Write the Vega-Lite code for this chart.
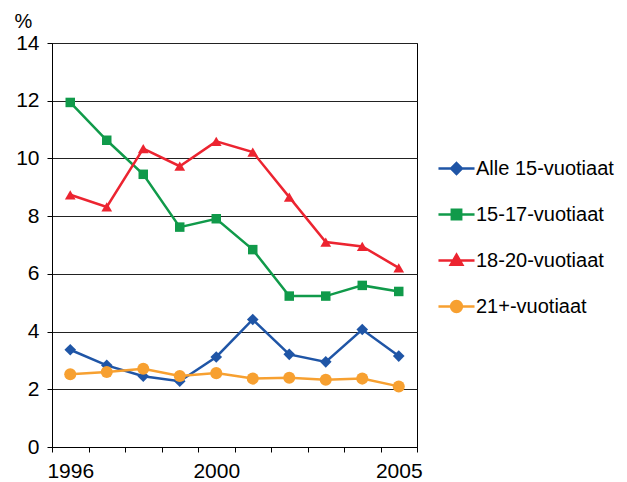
{
  "$schema": "https://vega.github.io/schema/vega-lite/v6.json",
  "autosize": {"type": "none"},
  "padding": {"left": 52, "top": 43, "right": 210, "bottom": 35},
  "width": 365,
  "height": 404,
  "background": "white",
  "config": {
    "font": "Liberation Sans",
    "view": {"stroke": "#000", "strokeWidth": 1},
    "axis": {"labelFont": "Liberation Sans", "titleFont": "Liberation Sans", "labelColor": "#000", "titleColor": "#000", "domainColor": "#000", "tickColor": "#000"}
  },
  "data": {"values": [
    {"year": "1996", "series": "Alle 15-vuotiaat", "value": 3.37},
    {"year": "1997", "series": "Alle 15-vuotiaat", "value": 2.83},
    {"year": "1998", "series": "Alle 15-vuotiaat", "value": 2.45},
    {"year": "1999", "series": "Alle 15-vuotiaat", "value": 2.28},
    {"year": "2000", "series": "Alle 15-vuotiaat", "value": 3.12},
    {"year": "2001", "series": "Alle 15-vuotiaat", "value": 4.42},
    {"year": "2002", "series": "Alle 15-vuotiaat", "value": 3.21},
    {"year": "2003", "series": "Alle 15-vuotiaat", "value": 2.95},
    {"year": "2004", "series": "Alle 15-vuotiaat", "value": 4.07},
    {"year": "2005", "series": "Alle 15-vuotiaat", "value": 3.15},
    {"year": "1996", "series": "15-17-vuotiaat", "value": 11.94},
    {"year": "1997", "series": "15-17-vuotiaat", "value": 10.63},
    {"year": "1998", "series": "15-17-vuotiaat", "value": 9.45},
    {"year": "1999", "series": "15-17-vuotiaat", "value": 7.62},
    {"year": "2000", "series": "15-17-vuotiaat", "value": 7.91},
    {"year": "2001", "series": "15-17-vuotiaat", "value": 6.84},
    {"year": "2002", "series": "15-17-vuotiaat", "value": 5.23},
    {"year": "2003", "series": "15-17-vuotiaat", "value": 5.23},
    {"year": "2004", "series": "15-17-vuotiaat", "value": 5.6},
    {"year": "2005", "series": "15-17-vuotiaat", "value": 5.39},
    {"year": "1996", "series": "18-20-vuotiaat", "value": 8.74},
    {"year": "1997", "series": "18-20-vuotiaat", "value": 8.32},
    {"year": "1998", "series": "18-20-vuotiaat", "value": 10.34},
    {"year": "1999", "series": "18-20-vuotiaat", "value": 9.73},
    {"year": "2000", "series": "18-20-vuotiaat", "value": 10.59},
    {"year": "2001", "series": "18-20-vuotiaat", "value": 10.22},
    {"year": "2002", "series": "18-20-vuotiaat", "value": 8.66},
    {"year": "2003", "series": "18-20-vuotiaat", "value": 7.1},
    {"year": "2004", "series": "18-20-vuotiaat", "value": 6.95},
    {"year": "2005", "series": "18-20-vuotiaat", "value": 6.21},
    {"year": "1996", "series": "21+-vuotiaat", "value": 2.52},
    {"year": "1997", "series": "21+-vuotiaat", "value": 2.6},
    {"year": "1998", "series": "21+-vuotiaat", "value": 2.71},
    {"year": "1999", "series": "21+-vuotiaat", "value": 2.46},
    {"year": "2000", "series": "21+-vuotiaat", "value": 2.56},
    {"year": "2001", "series": "21+-vuotiaat", "value": 2.37},
    {"year": "2002", "series": "21+-vuotiaat", "value": 2.4},
    {"year": "2003", "series": "21+-vuotiaat", "value": 2.33},
    {"year": "2004", "series": "21+-vuotiaat", "value": 2.37},
    {"year": "2005", "series": "21+-vuotiaat", "value": 2.1}
  ]},
  "encoding": {
    "x": {
      "field": "year", "type": "ordinal",
      "scale": {"type": "band", "paddingInner": 0, "paddingOuter": 0},
      "axis": {
        "title": null, "labelAngle": 0, "labelFontSize": 21, "tickBand": "extent", "tickSize": 5,
        "labelPadding": 8, "labelDx": 6, "domainWidth": 1,
        "labelExpr": "datum.label == '1996' || datum.label == '2000' || datum.label == '2005' ? datum.label : ''"
      }
    },
    "y": {
      "field": "value", "type": "quantitative",
      "scale": {"domain": [0, 14], "nice": false},
      "axis": {
        "values": [0, 2, 4, 6, 8, 10, 12, 14], "title": "%", "titleAngle": 0, "titleFontSize": 20, "titleFontWeight": "normal",
        "titleX": -29, "titleY": -22, "titleAlign": "center", "titleBaseline": "middle",
        "labelFontSize": 21, "tickSize": 5, "labelPadding": 8,
        "grid": true, "gridColor": "#222", "gridWidth": 1
      }
    },
    "color": {"field": "series", "type": "nominal",
      "scale": {"domain": ["Alle 15-vuotiaat", "15-17-vuotiaat", "18-20-vuotiaat", "21+-vuotiaat"], "range": ["#1f55a6", "#109a4a", "#ec2430", "#f7a030"]},
      "legend": {
        "title": null, "orient": "none", "legendX": 385, "legendY": 106,
        "labelFontSize": 20, "labelColor": "#000", "labelFont": "Liberation Sans",
        "symbolSize": 1300, "symbolStrokeWidth": 2.5, "rowPadding": 16, "labelOffset": 0,
        "encoding": {
          "symbols": {
            "shape": {"value": {"expr": "datum.value == 'Alle 15-vuotiaat' ? 'M-1,0H1M0,-0.3L0.3,0L0,0.3L-0.3,0Z' : datum.value == '15-17-vuotiaat' ? 'M-1,0H1M-0.26,-0.26H0.26V0.26H-0.26Z' : datum.value == '18-20-vuotiaat' ? 'M-1,0H1M0,-0.32L0.32,0.24H-0.32Z' : 'M-1,0H1M-0.3,0A0.3,0.3 0 1,0 0.3,0A0.3,0.3 0 1,0 -0.3,0Z'"}},
            "fill": {"value": {"expr": "scale('color', datum.value)"}},
            "stroke": {"value": {"expr": "scale('color', datum.value)"}},
            "strokeWidth": {"value": 2.5},
            "opacity": {"value": 1}
          }
        }
      }
    }
  },
  "layer": [
    {"mark": {"type": "line", "strokeWidth": 2.5}},
    {"transform": [{"filter": "datum.series == 'Alle 15-vuotiaat'"}], "mark": {"type": "point", "filled": true, "opacity": 1, "shape": "diamond", "size": 135}},
    {"transform": [{"filter": "datum.series == '15-17-vuotiaat'"}], "mark": {"type": "point", "filled": true, "opacity": 1, "shape": "square", "size": 90}},
    {"transform": [{"filter": "datum.series == '18-20-vuotiaat'"}], "mark": {"type": "point", "filled": true, "opacity": 1, "shape": "triangle-up", "size": 115}},
    {"transform": [{"filter": "datum.series == '21+-vuotiaat'"}], "mark": {"type": "point", "filled": true, "opacity": 1, "shape": "circle", "size": 145}}
  ]
}
